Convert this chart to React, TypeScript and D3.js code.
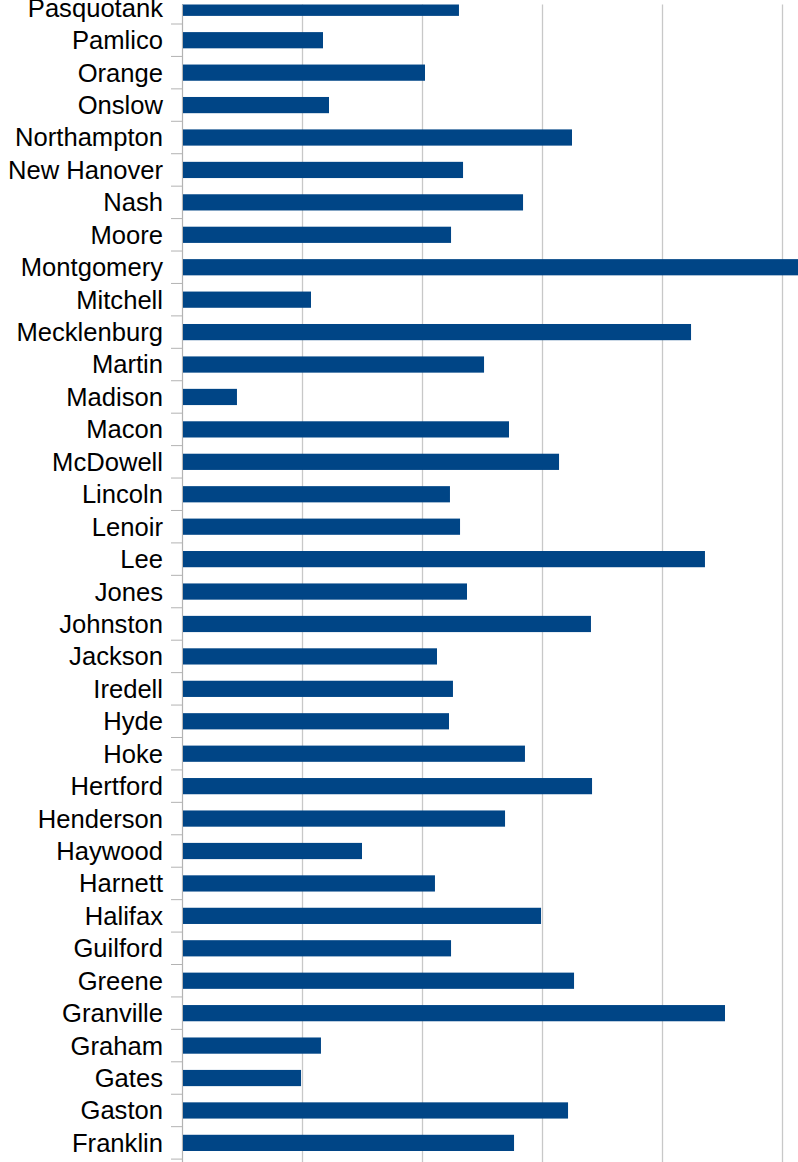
import React from "react";
import * as d3 from "d3";

const counties: string[] = [
  "Pasquotank", "Pamlico", "Orange", "Onslow", "Northampton", "New Hanover",
  "Nash", "Moore", "Montgomery", "Mitchell", "Mecklenburg", "Martin",
  "Madison", "Macon", "McDowell", "Lincoln", "Lenoir", "Lee", "Jones",
  "Johnston", "Jackson", "Iredell", "Hyde", "Hoke", "Hertford", "Henderson",
  "Haywood", "Harnett", "Halifax", "Guilford", "Greene", "Granville",
  "Graham", "Gates", "Gaston", "Franklin",
];

const values: number[] = [
  23.08, 11.75, 20.25, 12.25, 32.5, 23.42,
  28.42, 22.42, 52.0, 10.75, 42.42, 25.17,
  4.58, 27.25, 31.42, 22.33, 23.17, 43.58, 23.75,
  34.08, 21.25, 22.58, 22.25, 28.58, 34.17, 26.92,
  15.0, 21.08, 29.92, 22.42, 32.67, 45.25,
  11.58, 9.92, 32.17, 27.67,
];

const gridTicks: number[] = [0, 10, 20, 30, 40, 50, 60];

const W = 798;
const H = 1162;

export default function App() {
  const x = d3.scaleLinear().domain([0, 50]).range([182, 782]);
  const y = d3
    .scaleBand<string>()
    .domain(counties)
    .range([-8.43, 1159.1])
    .paddingInner(0.5)
    .paddingOuter(0.25);
  const step = y.step();
  const bw = y.bandwidth();
  const gap = (step - bw) / 2;
  const boundaries = counties.map((c) => (y(c) as number) - gap);
  boundaries.push((y(counties[counties.length - 1]) as number) + bw + gap);

  return (
    <svg
      width={W}
      height={H}
      style={{ position: "absolute", left: 0, top: 0, background: "#fff" }}
    >
      <defs>
        <clipPath id="plotClip">
          <rect x={170} y={4.5} width={W - 170} height={H - 4.5} />
        </clipPath>
      </defs>
      <rect x={0} y={0} width={W} height={H} fill="#fff" />
      <g clipPath="url(#plotClip)">
        {gridTicks.map((t) => (
          <line
            key={"g" + t}
            x1={Math.round(x(t)) + 0.5}
            x2={Math.round(x(t)) + 0.5}
            y1={0}
            y2={H}
            stroke="#c8c8c8"
            strokeWidth={1.3}
          />
        ))}
        {counties.map((c, i) => (
          <rect
            key={c}
            x={x(0)}
            y={y(c) as number}
            width={x(values[i]) - x(0)}
            height={bw}
            fill="#004586"
          />
        ))}
        {boundaries.map((b, i) => (
          <line
            key={"t" + i}
            x1={171}
            x2={182}
            y1={b}
            y2={b}
            stroke="#b3b3b3"
            strokeWidth={1}
          />
        ))}
        <line x1={182.5} x2={182.5} y1={0} y2={H} stroke="#b3b3b3" strokeWidth={1} />
      </g>
      <g
        fontFamily="'Liberation Sans', Arial, sans-serif"
        fontSize={25.6}
        fill="#000"
        textAnchor="end"
      >
        {counties.map((c) => (
          <text key={"l" + c} x={163} y={(y(c) as number) + bw / 2} dy="0.35em">
            {c}
          </text>
        ))}
      </g>
    </svg>
  );
}
